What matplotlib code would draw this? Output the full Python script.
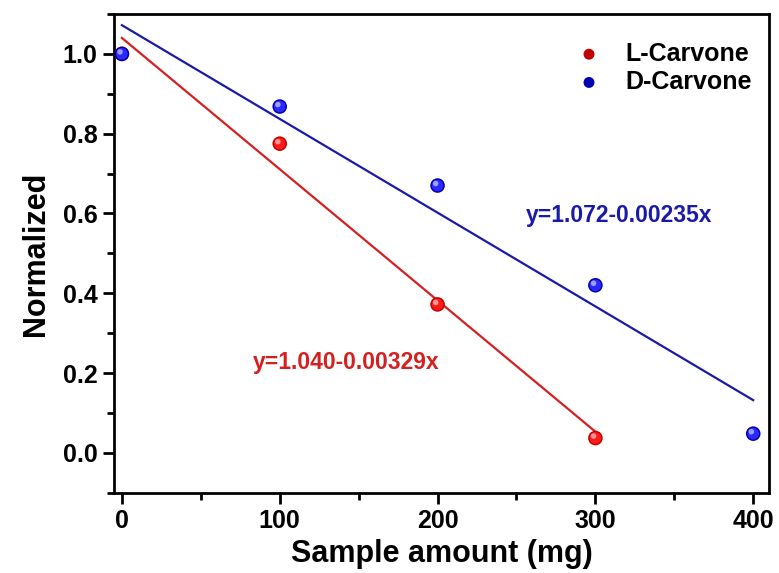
import matplotlib
matplotlib.use("Agg")
import matplotlib.pyplot as plt
import numpy as np
from matplotlib.ticker import MultipleLocator

plt.rcParams['font.family'] = ['Liberation Sans', 'DejaVu Sans']
plt.rcParams['font.weight'] = 'bold'

x_L = [0, 100, 200, 300]
y_L = [1.0, 0.775, 0.372, 0.037]
x_D = [0, 100, 200, 300, 400]
y_D = [1.0, 0.868, 0.670, 0.420, 0.048]
fit_L = (1.040, -0.00329)
fit_D = (1.072, -0.00235)
eq_L = "y=1.040-0.00329x"
eq_D = "y=1.072-0.00235x"

fig = plt.figure(figsize=(7.79, 5.73), dpi=100)
ax = fig.add_axes([114/779, 1-492.7/573, (769-114)/779, (492.7-14)/573])

def sphere(x, y, color, dark, label=None, z=3):
    ax.scatter(x, y, s=110, color=dark, zorder=z, edgecolors='none', label=label)
    ax.scatter(x, y, s=70, color=color, zorder=z+0.1, edgecolors='none')
    ax.scatter(np.array(x, dtype=float) - 1.2, np.array(y) + 0.005, s=16, color='white',
               alpha=0.55, zorder=z+0.2, edgecolors='none')

xl = np.array([0, x_L[-1]])
xd = np.array([0, x_D[-1]])
ax.plot(xl, fit_L[0] + fit_L[1]*xl, color='#d42020', lw=1.6, zorder=2)
ax.plot(xd, fit_D[0] + fit_D[1]*xd, color='#1a1aa8', lw=1.6, zorder=2)

sphere(x_L, y_L, '#ff1a1a', '#c00000', label='L-Carvone', z=3)
sphere(x_D, y_D, '#2a2aff', '#0000b0', label='D-Carvone', z=4)

ax.set_xlim(-5, 410)
ax.set_ylim(-0.1, 1.1)
ax.xaxis.set_major_locator(MultipleLocator(100))
ax.xaxis.set_minor_locator(MultipleLocator(50))
ax.yaxis.set_minor_locator(MultipleLocator(0.1))
ax.set_yticks([0.0, 0.2, 0.4, 0.6, 0.8, 1.0])
ax.set_yticklabels(['0.0', '0.2', '0.4', '0.6', '0.8', '1.0'])
for s in ax.spines.values():
    s.set_linewidth(2.0)
ax.tick_params(which='major', direction='out', length=8, width=2, labelsize=18, pad=4)
ax.tick_params(which='minor', direction='out', length=5, width=2)
for lab in ax.get_xticklabels() + ax.get_yticklabels():
    lab.set_fontweight('bold')

ax.set_xlabel('Sample amount (mg)', fontsize=22, fontweight='bold', labelpad=4)
ax.set_ylabel('Normalized', fontsize=22, fontweight='bold', labelpad=8)

ax.text(315, 0.594, eq_D, color='#1a1aa8', fontsize=16.5, fontweight='bold', ha='center', va='center')
ax.text(142, 0.227, eq_L, color='#d42020', fontsize=16.5, fontweight='bold', ha='center', va='center')

leg = ax.legend(loc='upper right', frameon=False, fontsize=18, handletextpad=0.45,
                bbox_to_anchor=(1.008, 0.989), labelspacing=0.17, markerscale=0.75)
for t in leg.get_texts():
    t.set_fontweight('bold')

fig.savefig('out.png', dpi=100)
